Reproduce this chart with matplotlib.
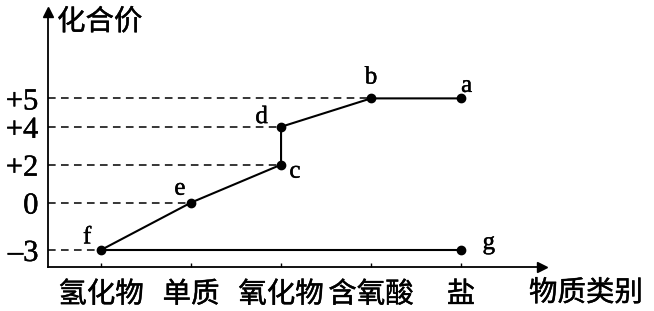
import matplotlib
matplotlib.use("Agg")
import matplotlib.pyplot as plt
import matplotlib.patheffects as pe

# 物质类别 (x categories) and the valence levels shown on the y axis
categories = ["氢化物", "单质", "氧化物", "含氧酸", "盐"]
valence_ticks = [-3, 0, 2, 4, 5]
valence_labels = ["–3", "0", "+2", "+4", "+5"]

# points: name, category index, valence
point_names = ["a", "b", "c", "d", "e", "f", "g"]
point_cat = [4, 3, 2, 2, 1, 0, 4]
point_val = [5, 5, 2, 4, 0, -3, -3]

# connected paths through the points
chain = ["f", "e", "c", "d", "b", "a"]
bottom = ["f", "g"]

# label offsets (points) for each letter
label_offset = {"a": (4, 9), "b": (0, 15), "c": (10, -5), "d": (-14, 7),
                "e": (-8, 10), "f": (-10, 9), "g": (20, 5)}

CJK = ["Noto Sans CJK SC", "DejaVu Sans"]
SERIF = ["Liberation Serif", "DejaVu Serif"]
# a thin outline gives the text a little of the printed figure's weight
HEAVY = [pe.withStroke(linewidth=0.3, foreground="black")]


# the y axis is schematic (not to scale): half linear in value, half by rank
def level_pos(v):
    lo, hi = min(valence_ticks), max(valence_ticks)
    n = len(valence_ticks) - 1
    rank = sorted(valence_ticks).index(v)
    return 0.5 * (v - lo) / (hi - lo) * n + 0.5 * rank


fig = plt.figure(figsize=(6.54, 3.11), dpi=100)
ax = fig.add_axes([48 / 654, 1 - 267 / 311, (542 - 48) / 654, (267 - 12) / 311])

pts = {n: (c, level_pos(v)) for n, c, v in zip(point_names, point_cat, point_val)}

ax.set_xlim(-0.59, 4.9)
ax.set_ylim(-0.45, 6.28)

# dashed guides from y axis to the first point at each level
for v in valence_ticks:
    y = level_pos(v)
    xs = [c for c, pv in zip(point_cat, point_val) if pv == v]
    ax.plot([ax.get_xlim()[0], min(xs)], [y, y], color="black", lw=1.1,
            linestyle=(0, (5, 3.5)), clip_on=False)

for path in (chain, bottom):
    ax.plot([pts[n][0] for n in path], [pts[n][1] for n in path],
            color="black", lw=1.5)

ax.plot([pts[n][0] for n in point_names], [pts[n][1] for n in point_names],
        "o", color="black", ms=6, zorder=3)

for n in point_names:
    ax.annotate(n, pts[n], xytext=label_offset[n], textcoords="offset points",
                ha="center", va="center", fontsize=18, family=SERIF,
                path_effects=HEAVY)

# axes with arrows
for s in ("top", "right"):
    ax.spines[s].set_visible(False)
for s in ("left", "bottom"):
    ax.spines[s].set_linewidth(1.3)
ax.plot(1, 0, ">", color="black", ms=7, transform=ax.transAxes, clip_on=False)
ax.plot(0, 1, "^", color="black", ms=7, transform=ax.transAxes, clip_on=False)

ax.set_xticks(range(len(categories)))
ax.set_xticklabels(categories, family=CJK, fontsize=20.5)
ax.tick_params(axis="x", direction="in", length=3, width=1, pad=9)
ax.set_yticks([level_pos(v) for v in valence_ticks])
ax.set_yticklabels(valence_labels, family=SERIF, fontsize=22)
ax.tick_params(axis="y", length=0, pad=7)
for t in ax.get_xticklabels() + ax.get_yticklabels():
    t.set_path_effects(HEAVY)

fig.text(57 / 654, 1 - 22 / 311, "化合价", family=CJK, fontsize=20.5,
         ha="left", va="center", path_effects=HEAVY)
fig.text(586 / 654, 1 - 293 / 311, "物质类别", family=CJK, fontsize=20.5,
         ha="center", va="center", path_effects=HEAVY)

fig.savefig("out.png", dpi=100, facecolor="white")
